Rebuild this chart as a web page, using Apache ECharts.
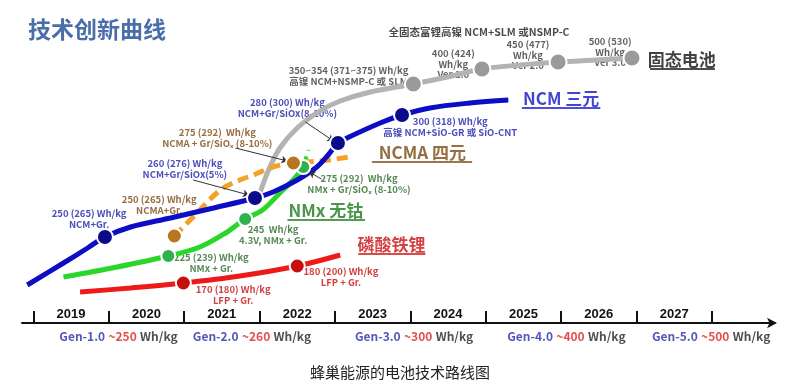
<!DOCTYPE html>
<html><head><meta charset="utf-8">
<script src="https://cdn.jsdelivr.net/npm/echarts@6/dist/echarts.min.js"></script>
<style>html,body{margin:0;padding:0;background:#fff}#c{width:800px;height:389px}</style>
</head><body><div id="c"></div>
<script>
// ---- data (x = year, y = vertical level on the roadmap) ----
const years = [2019, 2020, 2021, 2022, 2023, 2024, 2025, 2026, 2027];
const yearTicks = [2019, 2020, 2021, 2022, 2023, 2024, 2025, 2026, 2027, 2028];
const genNames = ['Gen-1.0', 'Gen-2.0', 'Gen-3.0', 'Gen-4.0', 'Gen-5.0'];
const genTargets = [250, 260, 300, 400, 500];
const genX = [2020.13, 2021.90, 2024.05, 2026.07, 2027.99];

const blueCurve = [[2018.92,38],[2019.40,60],[2019.72,75],[2019.95,86],[2020.29,96],[2020.82,105],[2021.39,115],[2021.94,125],[2022.18,131],[2022.50,143],[2022.76,156],[2022.91,168],[2023.04,180],[2023.16,185],[2023.60,200],[2023.89,208],[2024.26,215],[2024.79,220],[2025.30,223]];
const blueDots = [[2019.95,86],[2021.94,125],[2023.04,180],[2023.89,208]];
const grayCurve = [[2022.01,131],[2022.12,153],[2022.27,175],[2022.50,195],[2022.80,212],[2023.07,222],[2023.47,231],[2024.04,239],[2024.49,246],[2024.95,254],[2025.46,258],[2025.96,261],[2026.45,263],[2026.94,265]];
const grayDots = [[2024.04,239],[2024.95,254],[2025.96,261],[2026.94,265]];
const orangeCurve = [[2020.87,87],[2021.12,106],[2021.48,133],[2021.74,143],[2021.92,148],[2022.18,156],[2022.45,160],[2022.80,162],[2023.20,166]];
const brownDots = [[2020.87,87],[2022.45,160]];
const greenCurve = [[2019.40,46],[2020.11,56],[2020.79,67],[2021.21,76],[2021.55,90],[2021.81,104],[2022.04,113],[2022.27,130],[2022.47,145],[2022.58,156]];
const greenDash = [[2022.58,156],[2022.65,173]];
const greenDots = [[2020.79,67],[2021.81,104],[2022.58,156]];
const redCurve = [[2019.62,31],[2020.29,35],[2020.99,40],[2021.74,47],[2022.50,57],[2023.07,68]];
const redDots = [[2020.99,40],[2022.50,57]];

// annotations
const noteText = [
  '全固态富锂高镍 NCM+SLM 或NSMP-C',
  '350~354 (371~375) Wh/kg\n高镍 NCM+NSMP-C 或 SLM',
  '400 (424)\nWh/kg\nVer 1.0',
  '450 (477)\nWh/kg\nVer 2.0',
  '500 (530)\nWh/kg\nVer 3.0',
  '300 (318) Wh/kg\n高镍 NCM+SiO-GR 或 SiO-CNT',
  '280 (300) Wh/kg\nNCM+Gr/SiOx(8-10%)',
  '260 (276) Wh/kg\nNCM+Gr/SiOx(5%)',
  '250 (265) Wh/kg\nNCM+Gr.',
  '275 (292)  Wh/kg\nNCMA + Gr/SiOₓ (8-10%)',
  '250 (265) Wh/kg\nNCMA+Gr.',
  '275 (292)  Wh/kg\nNMx + Gr/SiOₓ (8-10%)',
  '245  Wh/kg\n4.3V, NMx + Gr.',
  '225 (239) Wh/kg\nNMx + Gr.',
  '180 (200) Wh/kg\nLFP + Gr.',
  '170 (180) Wh/kg\nLFP + Gr.'
];
const notePos = [[2024.91,291],[2023.18,247],[2024.57,259],[2025.56,268],[2026.65,271],[2024.53,196],[2022.37,215],[2021.01,154],[2019.74,104],[2021.44,185],[2020.67,118],[2023.32,139],[2022.18,88],[2021.36,60],[2023.08,46],[2021.65,28]];
const noteKind = ['black','gray','gray','gray','gray','blue','blue','blue','blue','brown','brown','green','green','green','red','red'];

const bigText = ['固态电池', 'NCM 三元', 'NCMA 四元', 'NMx 无钴', '磷酸铁锂'];
const bigPos = [[2027.60,263],[2026.00,224],[2024.16,170],[2022.88,112],[2023.75,78]];
const bigKind = ['black','blue','brown','green','red'];
const underlines = [[[2027.18,254],[2028.04,254]],[[2025.48,215],[2026.52,215]],[[2023.49,161],[2024.82,161]],[[2022.37,103],[2023.40,103]],[[2023.31,69],[2024.20,69]]];

const arrows = [
  [[2022.61,201],[2022.98,182]],
  [[2021.68,175],[2022.37,162]],
  [[2021.12,143],[2021.86,128]],
  [[2022.82,144],[2022.66,151]]
];

// ---- styles ----
const txtColor = {black:'#1a1a1a', gray:'#3a3a3a', blue:'#1c22a8', brown:'#7a4a12', green:'#2a6a2a', red:'#c41010'};
const bigColor = {black:'#111', blue:'#1515c8', brown:'#7b4a12', green:'#1e7a1e', red:'#cc1010'};
const FONT = "'Noto Sans CJK SC', 'Noto Sans', sans-serif";

const noteData = noteText.map((t, i) => ({
  value: notePos[i],
  label: {show:true, position:'inside', formatter:t, color:txtColor[noteKind[i]],
    fontSize: i === 0 ? 10.5 : 9.5, fontWeight:'bold', lineHeight: i===0?12:10.5, align:'center', verticalAlign:'middle', fontFamily: FONT}
}));
const bigData = bigText.map((t, i) => ({
  value: bigPos[i],
  label: {show:true, position:'inside', formatter:t, color:bigColor[bigKind[i]],
    fontSize: 17, fontWeight:'bold', align:'center', verticalAlign:'middle', fontFamily: FONT}
}));
const genData = genNames.map((g, i) => ({
  value: [genX[i], -13],
  label: {show:true, position:'inside', formatter: '{g|' + g + '} {r|~' + genTargets[i] + '} {k|Wh/kg}',
    align:'center', verticalAlign:'middle',
    rich: {
      g:{color:'#2a2aa8', fontSize:12, fontWeight:'bold', fontFamily:FONT},
      r:{color:'#e02020', fontSize:12, fontWeight:'bold', fontFamily:FONT},
      k:{color:'#222', fontSize:12, fontWeight:'bold', fontFamily:FONT}
    }}
}));

function curve(data, color, width, z, dashed) {
  return {type:'line', data, smooth:0.35, symbol:'none', clip:false, z,
    lineStyle:{color, width, type: dashed ? [11,6] : 'solid', cap:'butt'}, silent:true};
}
function dots(data, color, size, z) {
  return {type:'scatter', data, symbolSize:size, clip:false, z,
    itemStyle:{color, borderColor:'#fff', borderWidth:2, opacity:1}, silent:true};
}
function textSeries(data, z) {
  return {type:'scatter', data, symbolSize:1, clip:false, z,
    itemStyle:{color:'rgba(0,0,0,0)'}, silent:true};
}

const chart = echarts.init(document.getElementById('c'), null, {renderer:'canvas'});
chart.setOption({
  animation:false,
  backgroundColor:'#fff',
  title:[
    {text:'技术创新曲线', left:23, top:13, textStyle:{color:'#4a6ea8', fontSize:23, fontWeight:'bold', fontFamily:FONT}},
    {text:'蜂巢能源的电池技术路线图', left:'center', top:360, textStyle:{color:'#222', fontSize:15, fontWeight:'normal', fontFamily:FONT}}
  ],
  grid:{left:22, right:27, top:0, bottom:66},
  xAxis:{
    type:'value', min:2018.85, max:2028.81,
    axisLine:{show:true, symbol:['none','arrow'], symbolSize:[8,10], symbolOffset:[0,4], lineStyle:{color:'#111', width:2}},
    axisTick:{show:true, inside:true, length:12, customValues:yearTicks, lineStyle:{color:'#111', width:2}},
    axisLabel:{show:true, inside:true, margin:2, customValues: years.map(y => y + 0.5),
      formatter: v => String(Math.floor(v)), color:'#111', fontSize:13, fontWeight:'bold', fontFamily:"'Liberation Sans', Arial, sans-serif"},
    splitLine:{show:false}
  },
  yAxis:{type:'value', min:0, max:323, show:false},
  series:[
    textSeries(noteData, 1),
    curve(grayCurve, '#b3b3b3', 5, 2, false),
    curve(orangeCurve, '#f4a12a', 5, 3, true),
    curve(greenCurve, '#2bd62b', 5, 4, false),
    curve(greenDash, '#2bd62b', 4, 4, true),
    curve(blueCurve, '#0d0dc6', 5, 5, false),
    curve(redCurve, '#ee1a1a', 5, 5, false),
    {type:'lines', coordinateSystem:'cartesian2d', z:6, silent:true, symbol:['none','arrow'], symbolSize:6,
      lineStyle:{color:'#333', width:1, opacity:1}, data: arrows.map(a => ({coords:a}))},
    dots(grayDots, '#9a9a9a', 17, 10),
    dots(blueDots, '#0a0a8c', 16, 10),
    dots(greenDots, '#2fb150', 14, 10),
    dots(brownDots, '#b8761e', 15, 11),
    dots(redDots, '#c80f0f', 15, 10),
    {type:'lines', coordinateSystem:'cartesian2d', z:12, silent:true, symbol:'none',
      data: underlines.map((u, i) => ({coords:u, lineStyle:{color:bigColor[bigKind[i]], width:1.5, opacity:1}}))},
    textSeries(bigData, 12),
    textSeries(genData, 12)
  ]
});
</script></body></html>
